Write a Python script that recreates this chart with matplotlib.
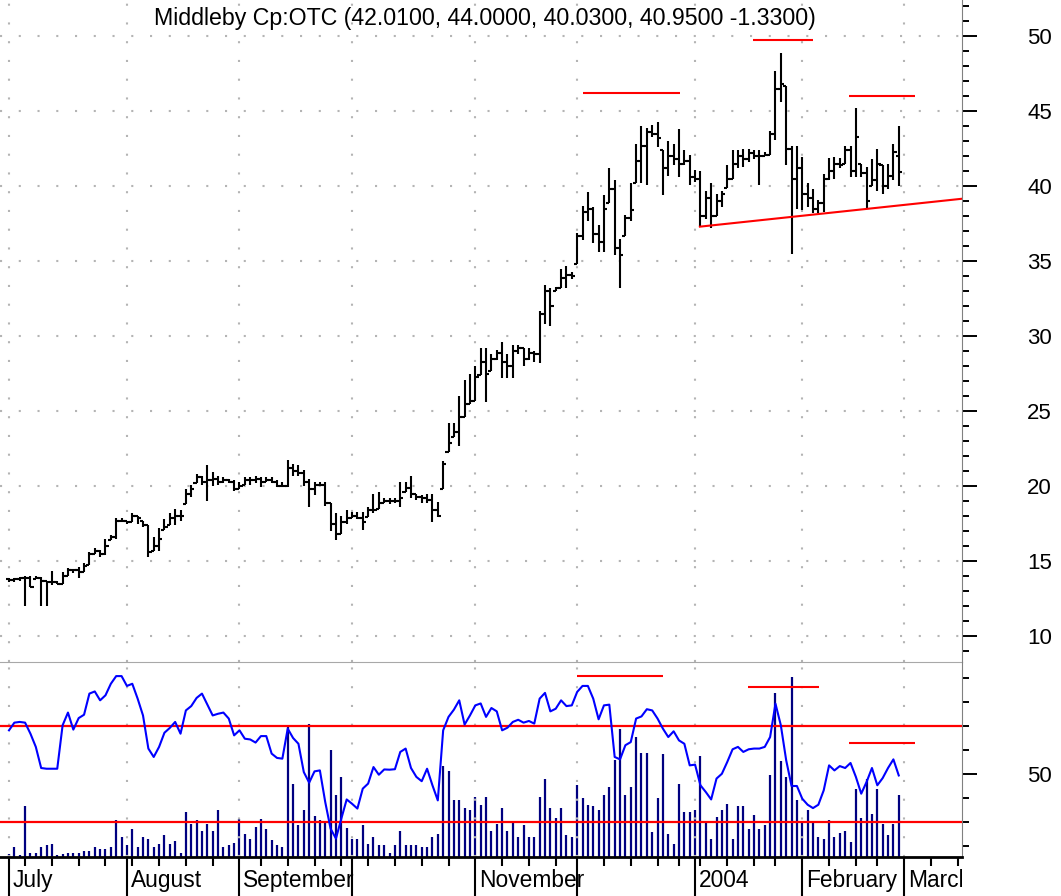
#!/usr/bin/env python3
"""
Middleby daily bar chart (Jul 2003 - Feb 2004) with volume and oscillator panel
"""

import numpy as np
import pandas as pd
import matplotlib
matplotlib.use('Agg')
import matplotlib.pyplot as plt
from matplotlib.transforms import Bbox, TransformedBbox, blended_transform_factory

plt.rcParams['font.family'] = ['Liberation Sans', 'DejaVu Sans']

title = 'Middleby Cp:OTC (42.0100, 44.0000, 40.0300, 40.9500 -1.3300)'

# Daily prices, one entry per trading day from 2003-07-01
opens = [13.8, 13.75, 13.8, 13.85, 13.9, 13.8, 13.9, 13.7, 13.6, 13.6, 13.5, 14.0, 14.4, 14.4, 14.3, 14.75, 15.5, 15.7, 15.5, 16.4, 16.6, 17.7,
         17.7, 17.6, 18.0, 17.7, 17.4, 15.7, 16.0, 17.1, 17.4, 17.9, 18.0, 18.8, 19.5, 20.2, 20.6, 20.3, 20.4, 20.5, 20.3, 20.4, 20.3,
         19.8, 20.1, 20.4, 20.4, 20.5, 20.3, 20.4, 20.3, 20.0, 20.0, 21.2, 21.0, 20.9, 20.3, 19.8, 20.1, 20.1, 18.9, 17.5, 16.8, 17.6,
         17.9, 18.0, 17.9, 17.95, 18.4, 18.5, 18.9, 19.0, 19.0, 19.0, 19.6, 19.9, 19.5, 19.3, 19.2, 19.1, 18.4, 19.8, 22.3, 23.3, 23.6, 24.6, 25.5,
         25.7, 27.4, 28.3, 27.7, 28.5, 28.9, 28.3, 28.0, 29.0, 29.2, 28.5, 28.9, 28.8, 31.5, 33.0, 33.0, 33.2, 33.9, 34.1,
         34.8, 36.7, 38.3, 38.5, 36.8, 36.3, 38.9, 39.8, 35.9, 36.7, 37.9, 40.2, 41.7, 42.7, 43.6, 43.5, 42.4, 41.2, 42.0, 41.8, 41.5, 41.7,
         40.6, 40.5, 38.0, 39.2, 38.0, 39.0, 39.9, 40.5, 41.5, 42.0, 41.8, 42.2, 42.0, 42.0, 42.1, 43.5, 46.5, 46.7, 42.5, 40.5,
         41.2, 39.5, 39.2, 38.5, 38.9, 40.5, 41.0, 41.5, 41.5, 42.4, 41.0, 41.5, 40.9, 40.0, 40.4, 41.4, 40.0, 40.7, 42.01]
highs = [13.9, 13.9, 13.95, 14.0, 14.0, 14.0, 13.95, 13.7, 14.35, 13.7, 14.3, 14.55, 14.5, 14.6, 14.85, 15.6, 15.9, 15.75, 16.5, 16.75, 17.9, 17.9,
         17.7, 18.2, 18.0, 17.7, 17.4, 16.6, 17.2, 17.8, 18.2, 18.5, 18.4, 19.8, 20.1, 20.8, 20.7, 21.4, 20.95, 20.7, 20.6, 20.5, 20.4,
         20.3, 20.6, 20.6, 20.7, 20.6, 20.6, 20.6, 20.4, 20.3, 21.75, 21.5, 21.4, 21.1, 20.5, 20.3, 20.3, 20.3, 18.9, 18.2, 18.0, 18.4,
         18.3, 18.3, 18.3, 18.6, 19.5, 19.6, 19.2, 19.2, 19.2, 20.3, 20.3, 20.7, 19.5, 19.4, 19.5, 19.5, 18.95, 21.7, 24.2, 24.2, 26.0, 27.1, 27.5,
         28.0, 29.2, 29.2, 28.8, 29.1, 29.6, 28.8, 29.4, 29.4, 29.2, 29.2, 29.0, 31.7, 33.4, 33.2, 33.3, 34.5, 34.7, 34.3,
         36.9, 38.7, 39.6, 38.6, 37.4, 39.4, 41.2, 40.4, 36.5, 38.1, 40.2, 42.8, 44.0, 43.9, 44.1, 44.3, 42.4, 43.0, 42.8, 43.8, 42.4, 42.1,
         41.1, 41.0, 39.7, 40.2, 39.5, 39.7, 41.4, 42.4, 42.4, 42.5, 42.5, 42.4, 42.4, 42.3, 43.7, 47.7, 48.9, 46.7, 42.7, 42.7,
         41.95, 40.2, 39.8, 39.1, 40.8, 41.85, 41.95, 41.85, 42.7, 42.7, 45.2, 41.5, 41.3, 41.8, 42.5, 41.4, 41.5, 42.8, 44.0]
lows = [13.6, 13.6, 13.7, 12.0, 13.25, 13.8, 12.0, 12.0, 13.4, 13.45, 13.5, 14.0, 14.2, 13.9, 14.3, 14.75, 15.5, 15.3, 15.4, 16.4, 16.5, 17.6,
        17.5, 17.6, 17.5, 17.3, 15.3, 15.7, 15.7, 17.1, 17.4, 17.4, 17.7, 18.8, 19.3, 20.2, 20.1, 19.0, 20.0, 20.1, 20.2, 20.2, 19.7,
        19.8, 20.1, 20.1, 20.2, 19.95, 20.3, 20.2, 19.95, 19.95, 19.95, 20.7, 20.7, 20.0, 18.6, 19.4, 20.0, 18.7, 17.0, 16.4, 16.8, 17.5,
        17.85, 17.8, 17.1, 17.95, 18.2, 18.5, 18.85, 18.8, 18.85, 18.6, 19.6, 19.2, 19.1, 18.85, 18.9, 17.6, 17.95, 19.8, 22.3, 23.3, 22.7, 24.6, 25.5,
        25.7, 27.4, 25.6, 27.7, 28.4, 27.2, 27.2, 27.2, 28.8, 28.0, 28.4, 28.3, 28.2, 30.8, 30.7, 33.0, 33.2, 33.2, 33.8,
        34.8, 36.4, 37.7, 36.2, 35.6, 35.6, 38.9, 35.4, 33.2, 36.7, 37.7, 40.2, 40.2, 40.1, 43.3, 42.6, 39.4, 40.7, 41.4, 40.6, 41.4, 40.1,
        40.3, 37.3, 37.8, 37.2, 38.0, 38.6, 39.9, 40.5, 41.2, 41.3, 41.6, 41.8, 40.1, 42.0, 42.1, 43.1, 45.6, 41.4, 35.5, 38.5,
        38.4, 38.6, 38.2, 38.2, 38.3, 40.4, 40.5, 41.2, 41.5, 40.6, 40.6, 40.6, 38.5, 40.0, 39.7, 39.5, 39.8, 40.4, 40.03]
closes = [13.75, 13.8, 13.85, 13.9, 13.3, 13.9, 13.7, 13.6, 13.6, 13.5, 14.0, 14.4, 14.4, 14.3, 14.7, 15.5, 15.7, 15.5, 16.0, 16.6, 17.7, 17.7,
          17.6, 18.0, 17.9, 17.4, 15.6, 16.0, 16.5, 17.3, 17.9, 18.0, 18.0, 19.5, 19.8, 20.6, 20.3, 20.4, 20.5, 20.3, 20.4, 20.3, 19.8,
          20.0, 20.4, 20.4, 20.5, 20.3, 20.4, 20.3, 20.0, 20.0, 21.2, 21.0, 20.9, 20.3, 19.8, 20.1, 20.1, 18.9, 17.5, 16.8, 17.6, 17.9,
          18.0, 17.9, 17.6, 18.4, 18.4, 18.9, 19.0, 19.0, 19.0, 19.2, 19.9, 19.5, 19.3, 19.2, 19.1, 18.4, 18.0, 21.5, 22.9, 23.6, 24.6, 25.5, 25.7,
          27.3, 28.3, 27.5, 28.5, 28.9, 28.3, 28.0, 29.0, 29.2, 28.5, 28.9, 28.8, 31.5, 33.0, 32.0, 33.2, 33.9, 34.1, 34.0,
          36.7, 38.3, 38.5, 36.8, 36.3, 38.5, 39.8, 35.9, 35.4, 37.9, 38.4, 41.7, 42.7, 43.6, 43.5, 43.2, 41.2, 42.0, 41.8, 41.5, 41.7, 40.6,
          40.5, 38.0, 39.2, 38.0, 39.0, 39.5, 40.5, 41.5, 42.0, 41.8, 42.2, 42.0, 42.0, 42.1, 43.5, 46.5, 46.8, 42.5, 40.5, 41.2,
          39.5, 39.2, 38.5, 38.9, 40.5, 41.0, 41.5, 41.4, 42.4, 41.0, 43.3, 40.9, 39.0, 40.4, 41.5, 40.0, 40.7, 42.28, 40.95]

volume = [10, 30, 7, 152, 13, 13, 30, 35, 40, 7, 10, 13, 13, 13, 17, 17, 30, 25, 25, 30, 110, 60,
          35, 83, 30, 60, 53, 30, 40, 65, 40, 47, 13, 135, 100, 110, 77, 100, 77, 140, 30, 37, 43,
          113, 70, 53, 90, 113, 83, 50, 35, 30, 390, 220, 95, 140, 400, 123, 110, 105, 320, 187, 240, 87,
          55, 55, 95, 40, 60, 37, 37, 13, 37, 77, 37, 37, 35, 30, 30, 60, 70, 273, 257, 170, 170, 147, 142,
          180, 157, 180, 77, 100, 147, 77, 107, 60, 95, 60, 60, 180, 233, 147, 117, 147, 65, 60,
          215, 177, 157, 153, 140, 187, 210, 290, 385, 187, 210, 360, 313, 313, 75, 177, 310, 70, 40, 220, 135, 135,
          140, 302, 107, 55, 120, 140, 160, 55, 153, 153, 85, 125, 83, 95, 245, 493, 287, 240, 540, 170,
          105, 140, 105, 60, 55, 110, 60, 73, 77, 45, 205, 117, 235, 130, 205, 100, 65, 100, 187]

oscillator = [68.2, 71.4, 71.7, 71.4, 66.8, 61.3, 52.5, 52.2, 52.2, 52.2, 70.3, 75.6, 68.5, 73.3, 74.7, 83.5, 84.4, 80.7, 82.8, 87.6, 90.8, 90.8,
              86.7, 87.6, 81.4, 74.4, 60.6, 57.1, 61.3, 67.2, 69.2, 71.7, 66.8, 76.5, 78.3, 81.7, 83.5, 78.9, 74.4, 75.1, 75.6, 73.1, 66.1,
              68.2, 64.7, 64.4, 63.1, 65.8, 65.8, 58.5, 56.7, 56.4, 68.9, 65.0, 62.6, 50.8, 46.4, 51.1, 51.5, 38.3, 27.2, 23.1, 31.4, 39.4,
              37.6, 35.6, 43.9, 46.0, 52.9, 49.7, 51.9, 51.8, 52.0, 59.2, 60.6, 52.5, 48.8, 47.0, 52.2, 45.3, 39.0, 68.2, 73.8, 76.8, 80.7, 70.6, 74.4,
              78.6, 79.4, 73.8, 77.5, 76.1, 68.2, 69.3, 71.7, 72.6, 71.4, 72.1, 71.0, 81.4, 83.8, 76.1, 77.2, 80.7, 78.3, 78.6,
              84.2, 86.7, 86.7, 81.4, 72.8, 78.6, 78.9, 57.1, 56.1, 62.0, 63.3, 73.1, 74.0, 77.0, 76.5, 73.1, 68.9, 65.4, 67.8, 64.0, 62.6, 53.6,
              53.9, 45.3, 42.5, 39.4, 48.1, 50.1, 55.0, 60.3, 61.3, 59.2, 60.3, 60.6, 60.6, 61.3, 65.4, 79.3, 70.3, 55.7, 45.0, 45.0,
              39.7, 37.2, 35.8, 37.2, 43.2, 53.6, 51.5, 53.3, 52.5, 54.6, 48.8, 41.8, 46.7, 52.5, 45.3, 48.3, 52.5, 56.1, 49.4]

# Trading calendar (US market holidays in the period)
holidays = ['2003-07-04', '2003-09-01', '2003-11-27', '2003-12-25', '2004-01-01', '2004-01-19', '2004-02-16']
month_names = {7: 'July', 8: 'August', 9: 'September', 11: 'November', 1: '2004', 2: 'February', 3: 'March'}

# Hand drawn red lines: (start bar, end bar, level)
price_marks = [(107.1, 125.2, 46.2), (138.8, 150.0, 49.73), (156.7, 169.0, 46.0)]
trend_x = [128.9, 177.8]
trend_y = [37.29, 39.15]
osc_marks = [(106.0, 122.0, 90.8), (137.9, 151.1, 86.25), (156.7, 169.0, 62.9)]
osc_levels = [70, 30]

xmin, xmax = -1.68, 177.8

days = pd.bdate_range('2003-07-01', '2004-03-31')
days = days[~days.isin(pd.to_datetime(holidays))]
month_start = [i for i in range(len(days)) if (i == 0 or days[i].month != days[i - 1].month) and i <= xmax]
week_start = [i for i in range(1, len(days))
              if days[i].isocalendar()[1] != days[i - 1].isocalendar()[1] and i not in month_start and i <= xmax]

idx = np.arange(len(closes))

W, H = 1061, 896
fig = plt.figure(figsize=(W / 100, H / 100), dpi=100)
ax = fig.add_axes([0, 1 - 662 / H, 962 / W, 662 / H])
axo = fig.add_axes([0, 1 - 857 / H, 962 / W, 195 / H])
axv = axo.twinx()
axo.set_zorder(axv.get_zorder() + 1)
axo.patch.set_visible(False)

grid_kw = dict(color='#b4b4b4', lw=1.5, ls=(0, (1, 8)), zorder=0)

# ---- price panel ----
for m in month_start:
    ax.axvline(m, **grid_kw)
for lvl in range(10, 51, 5):
    ax.axhline(lvl, **grid_kw)

ax.vlines(idx, lows, highs, color='black', lw=1.5, zorder=3)
ax.hlines(opens, idx - 0.6, idx, color='black', lw=1.5, zorder=3)
ax.hlines(closes, idx, idx + 0.6, color='black', lw=1.5, zorder=3)

for x0, x1, lvl in price_marks:
    ax.hlines(lvl, x0, x1, color='red', lw=1.5, zorder=4)
ax.plot(trend_x, trend_y, color='red', lw=1.5, zorder=4)

ax.set_xticks([])
ax.yaxis.tick_right()
ax.set_yticks(range(10, 51, 5))
ax.set_yticks(range(9, 53), minor=True)
ax.set_xlim(xmin, xmax)
ax.set_ylim(8.267, 52.4)
ax.tick_params(axis='y', which='major', direction='out', length=10.8, width=1.4, pad=36, labelsize=16)
ax.tick_params(axis='y', which='minor', direction='out', length=5, width=1.4)
for s in ['top', 'left']:
    ax.spines[s].set_visible(False)
ax.spines['right'].set_color('#808080')
ax.spines['bottom'].set_color('#a8a8a8')
ax.spines['bottom'].set_linewidth(0.8)

fig.text(485 / W, 1 - 19 / H, title, ha='center', va='center', fontsize=16.7)

# ---- volume + oscillator panel ----
axv.vlines(idx, 0, volume, color='#000080', lw=1.6)
axv.set_yticks([])
axv.set_ylim(0, 585)
for s in axv.spines.values():
    s.set_visible(False)

for m in month_start:
    axo.axvline(m, **grid_kw)
for lvl in osc_levels:
    axo.axhline(lvl, color='red', lw=1.6, zorder=2)
for x0, x1, lvl in osc_marks:
    axo.hlines(lvl, x0, x1, color='red', lw=1.5, zorder=2)
axo.plot(idx, oscillator, color='#0000ff', lw=1.5, zorder=3)

axo.yaxis.tick_right()
axo.set_yticks([50])
axo.set_yticks([20, 30, 40, 60, 70, 80, 90], minor=True)
axo.tick_params(axis='y', which='major', direction='out', length=10.8, width=1.4, pad=36, labelsize=16)
axo.tick_params(axis='y', which='minor', direction='out', length=5, width=1.4)
axo.set_xticks(month_start)
axo.set_xticklabels([])
axo.set_xticks(week_start, minor=True)
axo.tick_params(axis='x', which='major', direction='out', length=28, width=1.5, color='black')
axo.tick_params(axis='x', which='minor', direction='out', length=6.5, width=1.5, color='black')
axo.set_xlim(xmin, xmax)
axo.set_ylim(15.42, 96.67)
axv.set_xlim(xmin, xmax)
for s in ['top', 'left']:
    axo.spines[s].set_visible(False)
axo.spines['right'].set_color('#808080')
axo.spines['bottom'].set_color('black')
axo.spines['bottom'].set_linewidth(2)

trans = blended_transform_factory(axo.transData, axo.transAxes)
clip = TransformedBbox(Bbox([[0, 0], [962 / W, 1]]), fig.transFigure)
for m in month_start:
    name = month_names.get(days[m].month, '')
    if name:
        t = axo.text(m + 0.7, -0.154, name, transform=trans, ha='left', va='baseline',
                     fontsize=16.4, clip_on=True)
        t.set_clip_box(clip)

fig.savefig('out.png', dpi=100)
